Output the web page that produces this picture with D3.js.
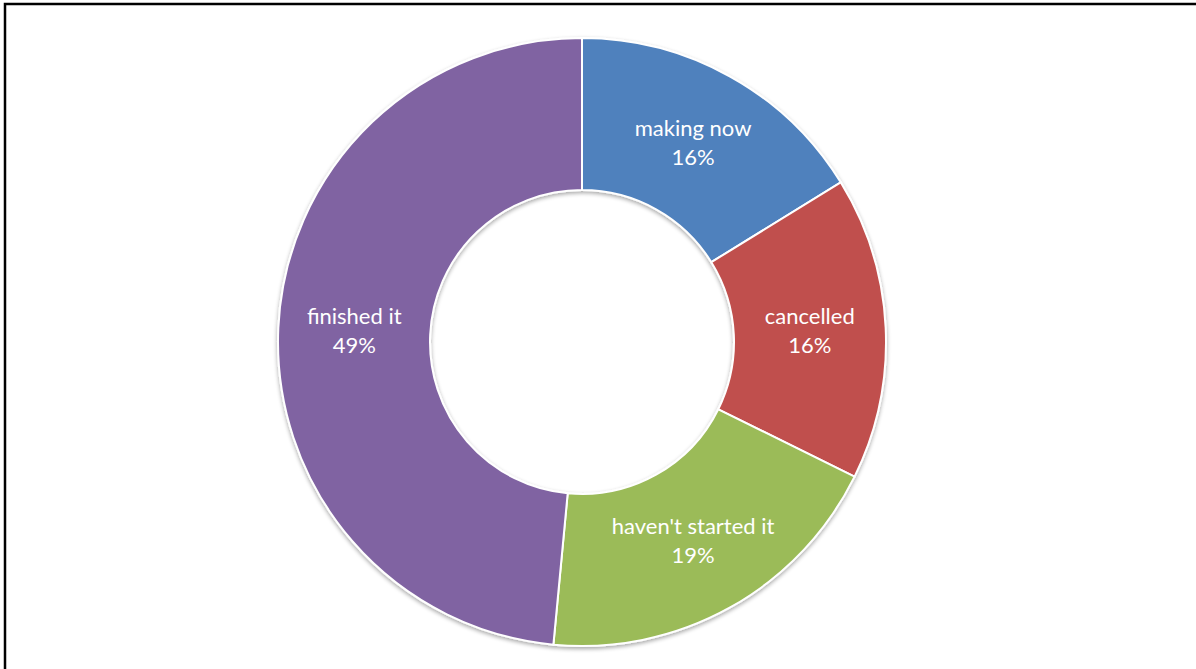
<!DOCTYPE html>
<html>
<head>
<meta charset="utf-8">
<script src="https://cdn.jsdelivr.net/npm/d3@7"></script>
<style>
  html, body { margin: 0; padding: 0; background: #fff; }
  svg { display: block; }
</style>
</head>
<body>
<svg id="chart" width="1196" height="669"></svg>
<script>
const categories = ["making now", "cancelled", "haven't started it", "finished it"];
const values = [16.2, 16.1, 19.2, 48.5];
const percentLabels = ["16%", "16%", "19%", "49%"];
const colors = ["#4F81BD", "#C0504D", "#9BBB59", "#8064A2"];

const svg = d3.select("#chart");
const W = 1196, H = 669;
const cx = 582, cy = 342, R = 304, r = 152;

// frame (partially cropped)
svg.append("path")
  .attr("d", `M5,${H + 5} L5,4 L${W + 5},4`)
  .attr("fill", "none").attr("stroke", "#000").attr("stroke-width", 2.5);

const defs = svg.append("defs");
const f = defs.append("filter").attr("id", "sh").attr("x", "-10%").attr("y", "-10%").attr("width", "120%").attr("height", "120%");
f.append("feGaussianBlur").attr("in", "SourceAlpha").attr("stdDeviation", 2).attr("result", "b");
f.append("feOffset").attr("in", "b").attr("dx", 0).attr("dy", 1.5).attr("result", "o");
f.append("feComponentTransfer").attr("in", "o").attr("result", "o2")
  .append("feFuncA").attr("type", "linear").attr("slope", 0.35);
const m = f.append("feMerge");
m.append("feMergeNode").attr("in", "o2");
m.append("feMergeNode").attr("in", "SourceGraphic");

const data = categories.map((c, i) => ({ cat: c, value: values[i], pct: percentLabels[i], color: colors[i] }));
const pie = d3.pie().value(d => d.value).sort(null);
const arc = d3.arc().innerRadius(r).outerRadius(R);
const arcs = pie(data);

const g = svg.append("g").attr("transform", `translate(${cx},${cy})`);
g.append("g").attr("filter", "url(#sh)")
  .selectAll("path").data(arcs).join("path")
  .attr("d", arc)
  .attr("fill", d => d.data.color)
  .attr("stroke", "#fff").attr("stroke-width", 2);

const labelArc = d3.arc().innerRadius((R + r) / 2).outerRadius((R + r) / 2);
const lbl = g.selectAll("text.lbl").data(arcs).join("text")
  .attr("class", "lbl")
  .attr("transform", d => `translate(${labelArc.centroid(d)})`)
  .attr("text-anchor", "middle")
  .attr("fill", "#fff")
  .attr("font-family", "Lato, 'Open Sans', sans-serif")
  .attr("font-size", 22);
lbl.append("tspan").attr("x", 0).attr("y", -7).text(d => d.data.cat);
lbl.append("tspan").attr("x", 0).attr("y", 22).text(d => d.data.pct);
</script>
</body>
</html>
